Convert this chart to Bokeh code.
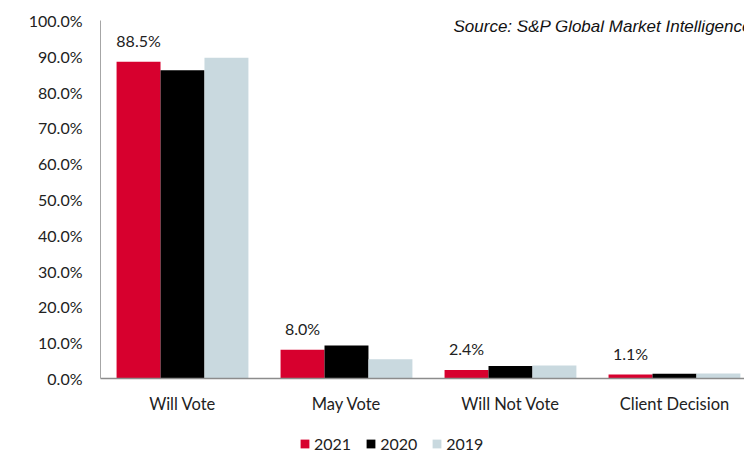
from bokeh.plotting import figure
from bokeh.layouts import column
from bokeh.models import (ColumnDataSource, Range1d, FixedTicker, PrintfTickFormatter,
                          Legend, LegendItem, Label)
from bokeh.transform import dodge
from bokeh.core.properties import value
from bokeh.embed import file_html
from bokeh.resources import INLINE

categories = ["Will Vote", "May Vote", "Will Not Vote", "Client Decision"]
years = ["2021", "2020", "2019"]
v2021 = [88.5, 8.0, 2.4, 1.1]
v2020 = [86.1, 9.2, 3.5, 1.3]
v2019 = [89.6, 5.4, 3.6, 1.4]
label_2021 = ["88.5%", "8.0%", "2.4%", "1.1%"]
y_ticks = [0, 10, 20, 30, 40, 50, 60, 70, 80, 90, 100]

colors = ["#D7002E", "#000000", "#C9D9DF"]
FONT = "Lato"

idx = list(range(len(categories)))
src = ColumnDataSource(dict(x=idx, v2021=v2021, v2020=v2020, v2019=v2019, lab=label_2021))
series = ["v2021", "v2020", "v2019"]

p = figure(width=744, height=425, output_backend="svg", toolbar_location=None,
           x_range=Range1d(-0.5, 3.427), y_range=Range1d(0, 100),
           min_border_left=100, min_border_right=0, min_border_top=20, min_border_bottom=47)
p.outline_line_color = None
p.xgrid.visible = False
p.ygrid.visible = False

bw = 0.268
offsets = [-bw, 0, bw]
for s, c, o in zip(series, colors, offsets):
    p.vbar(x=dodge("x", o, range=p.x_range), top=s, width=bw, source=src,
           fill_color=c, line_color=None)

p.text(x=dodge("x", -bw, range=p.x_range), y="v2021", text="lab", source=src,
       text_align="center", text_baseline="middle", y_offset=-21,
       text_font=value(FONT), text_font_size="16px", text_color="#222222")

# axes
p.xaxis.ticker = FixedTicker(ticks=idx)
p.xaxis.major_label_overrides = {i: c for i, c in zip(idx, categories)}
p.xaxis.major_tick_line_color = None
p.xaxis.major_tick_out = 0
p.xaxis.minor_tick_line_color = None
p.xaxis.minor_tick_out = 0
p.xaxis.axis_line_color = "#8C8C8C"
p.xaxis.axis_line_width = 1.5
p.xaxis.major_label_standoff = 15
p.xaxis.major_label_text_font = FONT
p.xaxis.major_label_text_font_size = "16.5px"
p.xaxis.major_label_text_color = "#222222"

p.yaxis.ticker = FixedTicker(ticks=y_ticks)
p.yaxis.formatter = PrintfTickFormatter(format="%.1f%%")
p.yaxis.major_tick_line_color = None
p.yaxis.major_tick_out = 0
p.yaxis.minor_tick_line_color = None
p.yaxis.minor_tick_out = 0
p.yaxis.axis_line_color = "#A6A6A6"
p.yaxis.axis_line_width = 1
p.yaxis.major_label_standoff = 18
p.yaxis.major_label_text_font = FONT
p.yaxis.major_label_text_font_size = "16px"
p.yaxis.major_label_text_color = "#222222"

# source note
src_label = Label(x=353, y=352, x_units="screen", y_units="screen",
                  text="Source: S&P Global Market Intelligence",
                  text_font="Liberation Sans", text_font_style="italic",
                  text_font_size="17px", text_baseline="middle", text_color="#111111")
p.add_layout(src_label)

# legend strip: hidden bar renderers feed the legend swatches
pl = figure(width=744, height=30, output_backend="svg", toolbar_location=None,
            x_range=Range1d(-0.5, 3.427), y_range=Range1d(0, 100),
            x_axis_location=None, y_axis_location=None,
            min_border_left=100, min_border_right=0, min_border_top=0, min_border_bottom=0)
pl.outline_line_color = None
pl.xgrid.visible = False
pl.ygrid.visible = False
lr = [pl.vbar(x="x", top=s, width=bw, source=src, fill_color=c, line_color=None,
              visible=False)
      for s, c in zip(series, colors)]

legend = Legend(items=[LegendItem(label=y, renderers=[r]) for y, r in zip(years, lr)],
                orientation="horizontal", location=(199, 2),
                border_line_color=None, background_fill_alpha=0,
                inactive_fill_alpha=0,
                padding=0, margin=0, spacing=14, glyph_width=11, glyph_height=11,
                label_standoff=4, label_text_font=FONT, label_text_font_size="16px",
                label_text_color="#222222", label_height=16)
pl.add_layout(legend, "center")

layout = column(p, pl, spacing=0)
open("out.html", "w").write(file_html(layout, INLINE))
